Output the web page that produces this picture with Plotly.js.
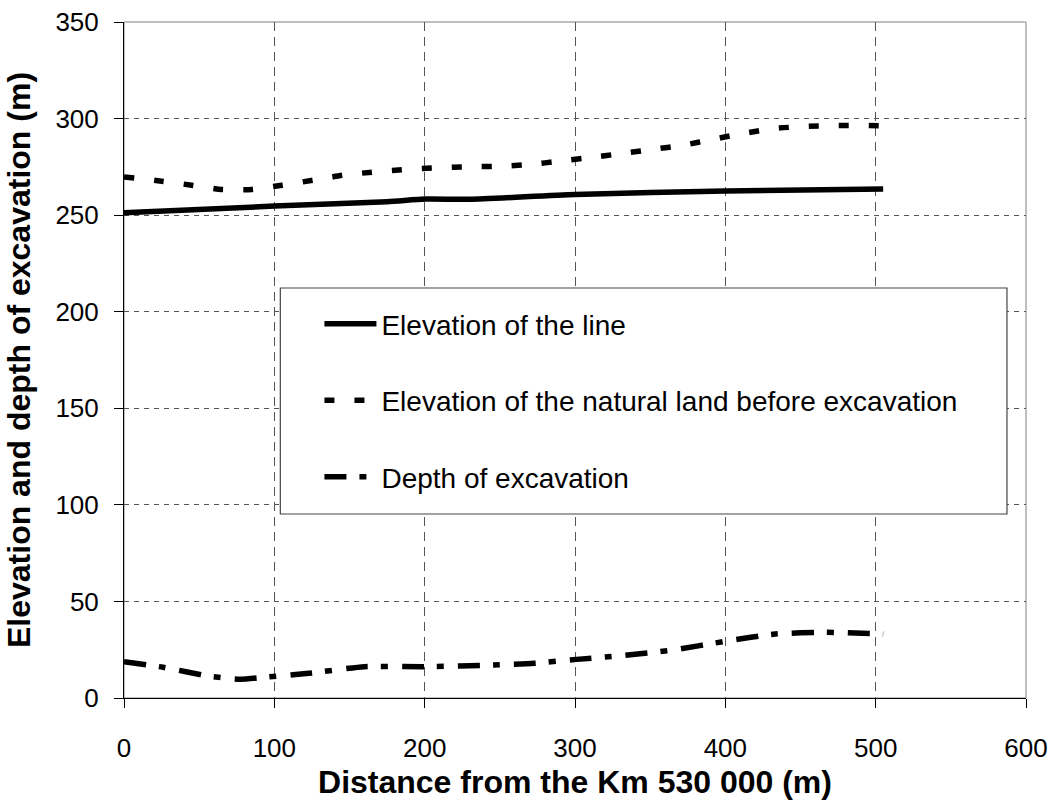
<!DOCTYPE html>
<html>
<head>
<meta charset="utf-8">
<script src="https://cdn.plot.ly/plotly-3.0.1.min.js"></script>
<style>html,body{margin:0;padding:0;background:#fff;}#chart{width:1054px;height:805px;}</style>
</head>
<body>
<div id="chart"></div>
<script>
// Elevation of the line
const lineX = [0, 100, 175, 200, 230, 300, 400, 505];
const lineY = [251.2, 254.7, 256.9, 258.3, 258.2, 260.7, 262.5, 263.5];

// Elevation of the natural land before excavation
const landX = [0, 25, 45, 65, 85, 105, 126, 146, 167, 187, 207, 228, 250, 270, 290, 311, 331, 351, 372, 392, 412, 433, 453, 474, 494, 505];
const landY = [269.8, 267.6, 265.5, 263.3, 263.3, 265.5, 268.1, 270.7, 272.4, 273.6, 274.5, 275, 275.3, 276.2, 278, 279.9, 281.9, 284, 286.2, 289.3, 292.3, 294.9, 295.9, 296.4, 296.4, 296.2];

// Depth of excavation
const depthX = [0, 26, 55, 77, 93, 123, 160, 200, 246, 273, 301, 331, 365, 401, 433, 467, 505];
const depthY = [18.8, 15.9, 11.5, 9.7, 10.7, 12.8, 16.2, 16.2, 17.1, 18, 20, 21.9, 24.8, 29.5, 33.1, 34, 33.1];

const seriesNames = ['Elevation of the line', 'Elevation of the natural land before excavation', 'Depth of excavation'];

const xTicks = [0, 100, 200, 300, 400, 500, 600];
const yTicks = [0, 50, 100, 150, 200, 250, 300, 350];

const FONT = '"Liberation Sans", Arial, sans-serif';

const traces = [
  {x: lineX, y: lineY, name: seriesNames[0], mode: 'lines', legendgroup: 'a',
   line: {color: '#000', width: 5.5, shape: 'spline', smoothing: 0.6}},
  {x: landX, y: landY, name: seriesNames[1], mode: 'lines', legendgroup: 'b',
   line: {color: '#000', width: 5.5, dash: '10px,20px', shape: 'spline', smoothing: 0.6}},
  {x: depthX, y: depthY, name: seriesNames[2], mode: 'lines', legendgroup: 'c',
   line: {color: '#000', width: 5.5, dash: '22px,13px,7px,14px', shape: 'spline', smoothing: 0.6}}
];

const layout = {
  width: 1054, height: 805,
  margin: {l: 124, r: 28, t: 22, b: 107},
  paper_bgcolor: '#fff', plot_bgcolor: '#fff',
  font: {family: FONT, color: '#000', size: 26},
  showlegend: true,
  legend: {
    x: 0.2211, y: 0.59, xanchor: 'left', yanchor: 'top',
    bgcolor: 'rgba(0,0,0,0)', borderwidth: 0,
    font: {family: FONT, size: 28, color: '#000'},
    itemwidth: 48,
    tracegroupgap: 37
  },
  xaxis: {
    range: [0, 600], tickvals: xTicks, ticktext: xTicks.map(String),
    showline: true, linecolor: '#000', linewidth: 1,
    ticks: 'outside', ticklen: 9, tickcolor: '#000',
    ticklabelstandoff: 18,
    showgrid: true, gridcolor: '#555', gridwidth: 1, griddash: '9px,6px',
    zeroline: false,
    tickfont: {family: FONT, size: 26},
    title: {text: 'Distance from the Km 530 000 (m)', standoff: 8,
      font: {family: FONT, size: 32, weight: 'bold'}}
  },
  yaxis: {
    range: [0, 350], tickvals: yTicks, ticktext: yTicks.map(String),
    showline: true, linecolor: '#000', linewidth: 1,
    ticks: 'outside', ticklen: 9, tickcolor: '#000',
    ticklabelstandoff: 10,
    showgrid: true, gridcolor: '#555', gridwidth: 1, griddash: '5px,5px',
    zeroline: false,
    tickfont: {family: FONT, size: 26},
    title: {text: 'Elevation and depth of excavation (m)', standoff: 15,
      font: {family: FONT, size: 32, weight: 'bold'}}
  },
  shapes: [
    {type: 'rect', xref: 'paper', yref: 'paper', x0: 0, x1: 1, y0: 0, y1: 1,
     line: {color: '#808080', width: 1}, layer: 'below'},
    {type: 'rect', xref: 'paper', yref: 'paper', x0: 0.1733, x1: 0.9789, y0: 0.2722, y1: 0.6065,
     line: {color: '#444', width: 1.2}, fillcolor: '#fff', layer: 'above'}
  ]
};

Plotly.newPlot('chart', traces, layout, {displayModeBar: false, staticPlot: true}).then(function (gd) {
  // widen the legend line samples to match the original legend keys
  gd.querySelectorAll('.legend .legendlines path').forEach(function (p) {
    p.setAttribute('d', 'M1,0h52');
  });
});
</script>
</body>
</html>
